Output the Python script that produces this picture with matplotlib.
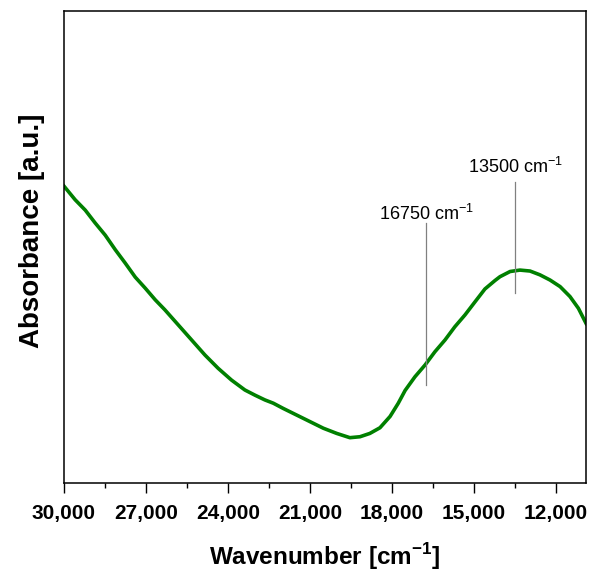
import matplotlib
matplotlib.use("Agg")
import matplotlib.pyplot as plt
from matplotlib.ticker import MultipleLocator, FuncFormatter

plt.rcParams['font.family'] = ['Liberation Sans', 'DejaVu Sans']
plt.rcParams['mathtext.fontset'] = 'custom'
plt.rcParams['mathtext.rm'] = 'Liberation Sans'
plt.rcParams['mathtext.bf'] = 'Liberation Sans:bold'

# spectrum (absorbance in arbitrary units)
wavenumber = [30000, 29590, 29220, 28860, 28490, 28120, 27760, 27390, 27030,
              26660, 26310, 25820, 25330, 24840, 24360, 23870, 23380, 23010,
              22650, 22340, 21980, 21490, 21000, 20510, 20020, 19540, 19170,
              18810, 18440, 18070, 17770, 17520, 17160, 16790, 16430, 16060,
              15700, 15330, 14960, 14600, 14230, 14050, 13680, 13320, 12950,
              12590, 12220, 11850, 11490, 11180, 10900]
absorbance = [0.629, 0.600, 0.578, 0.551, 0.525, 0.494, 0.466, 0.436, 0.413,
              0.388, 0.367, 0.335, 0.303, 0.271, 0.243, 0.218, 0.197, 0.186,
              0.176, 0.169, 0.158, 0.144, 0.130, 0.116, 0.105, 0.096, 0.098,
              0.105, 0.117, 0.141, 0.169, 0.196, 0.225, 0.250, 0.278, 0.303,
              0.331, 0.356, 0.384, 0.411, 0.429, 0.437, 0.448, 0.451, 0.449,
              0.441, 0.430, 0.416, 0.395, 0.370, 0.338]

# marked bands: position, line bottom, line top, label baseline
band_pos = [16750, 13500]
band_lo = [0.208, 0.403]
band_hi = [0.551, 0.638]
band_text_y = [0.557, 0.657]

fig = plt.figure(figsize=(5.92, 5.75), dpi=100)
ax = fig.add_axes([0.108, 0.160, 0.882, 0.821])

ax.plot(wavenumber, absorbance, color='#008000', lw=2.6)

for pos, lo, hi, ty in zip(band_pos, band_lo, band_hi, band_text_y):
    ax.plot([pos, pos], [lo, hi], color='#808080', lw=0.9)
    ax.text(pos, ty, f"{pos} cm$^{{-1}}$", ha='center', va='baseline',
            fontsize=13)

ax.set_xlim(30000, 10900)
ax.set_ylim(0, 1)
ax.xaxis.set_major_locator(MultipleLocator(3000))
ax.xaxis.set_minor_locator(MultipleLocator(1500))
ax.xaxis.set_major_formatter(FuncFormatter(lambda v, p: f"{int(v):,}"))
ax.set_yticks([])

ax.tick_params(axis='x', which='major', direction='out', length=7, width=1,
               labelsize=15, pad=8)
ax.tick_params(axis='x', which='minor', direction='out', length=3.5, width=1)
for lab in ax.get_xticklabels():
    lab.set_fontweight('bold')
for s in ax.spines.values():
    s.set_linewidth(1.1)

ax.set_xlabel(r"Wavenumber [cm$^{\mathbf{-1}}$]", fontsize=17.5,
              fontweight='bold', labelpad=13)
ax.set_ylabel("Absorbance [a.u.]", fontsize=20, fontweight='bold')
ax.yaxis.set_label_coords(-0.036, 0.534)

fig.savefig("out.png", dpi=100)
